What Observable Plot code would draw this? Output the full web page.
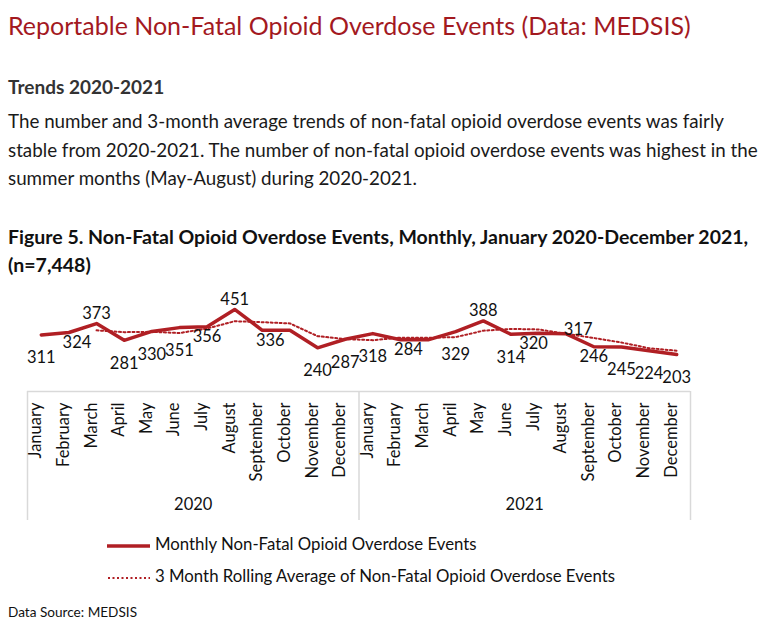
<!DOCTYPE html>
<html>
<head>
<meta charset="utf-8">
<script src="https://cdn.jsdelivr.net/npm/d3@7"></script>
<script src="https://cdn.jsdelivr.net/npm/@observablehq/plot@0.6"></script>
<style>
  html, body { margin: 0; padding: 0; background: #fff; }
  #page { position: relative; width: 768px; height: 637px; overflow: hidden; font-family: Lato, "Open Sans", sans-serif; color: #1a1a1a; }
  .t { position: absolute; left: 8px; white-space: nowrap; line-height: 1; }
  #title { top: 13px; font-size: 25px; color: #a3191f; }
  #trends { top: 77px; font-size: 19px; font-weight: bold; color: #333; }
  .para { font-size: 18.8px; color: #1a1a1a; }
  #p1 { top: 112px; } #p2 { top: 141px; } #p3 { top: 169px; }
  .fig { font-size: 19.5px; font-weight: bold; color: #111; }
  #f1 { top: 227px; } #f2 { top: 255px; }
  #chart { position: absolute; left: 0; top: 280px; }
  .leg { position: absolute; left: 107px; font-size: 16.8px; line-height: 1; white-space: nowrap; font-family: Lato, sans-serif; color: #111; }
  .leg svg { vertical-align: middle; margin-right: 4px; }
  #leg1 { top: 536px; } #leg2 { top: 568px; }
  #source { top: 606px; font-size: 13.6px; color: #111; }
</style>
</head>
<body>
<div id="page">
  <div class="t" id="title">Reportable Non-Fatal Opioid Overdose Events (Data: MEDSIS)</div>
  <div class="t" id="trends">Trends 2020-2021</div>
  <div class="t para" id="p1">The number and 3-month average trends of non-fatal opioid overdose events was fairly</div>
  <div class="t para" id="p2">stable from 2020-2021. The number of non-fatal opioid overdose events was highest in the</div>
  <div class="t para" id="p3">summer months (May-August) during 2020-2021.</div>
  <div class="t fig" id="f1">Figure 5. Non-Fatal Opioid Overdose Events, Monthly, January 2020-December 2021,</div>
  <div class="t fig" id="f2">(n=7,448)</div>
  <div id="chart"></div>
  <div class="leg" id="leg1"><svg width="44" height="8"><line x1="0" x2="43" y1="4" y2="4" stroke="#b01f24" stroke-width="3.5"/></svg>Monthly Non-Fatal Opioid Overdose Events</div>
  <div class="leg" id="leg2"><svg width="44" height="8"><line x1="1" x2="43" y1="4" y2="4" stroke="#b01f24" stroke-width="2" stroke-dasharray="2,2.5"/></svg>3 Month Rolling Average of Non-Fatal Opioid Overdose Events</div>
  <div class="t" id="source">Data Source: MEDSIS</div>
</div>
<script>
const years = ["2020", "2021"];
const monthNames = ["January","February","March","April","May","June","July","August","September","October","November","December"];
const monthly2020 = [311, 324, 373, 281, 330, 351, 356, 451, 336, 336, 240, 287];
const monthly2021 = [318, 284, 284, 329, 388, 314, 320, 317, 246, 245, 224, 203];
const rolling2020 = [null, null, 336, 326, 328, 321, 346, 386, 381, 374, 304, 288];
const rolling2021 = [282, 296, 295, 299, 334, 344, 341, 317, 294, 269, 238, 224];
const labelPlace2020 = ["below","nearR","above","below","below","below","near","above","nearR","none","below","below"];
const labelPlace2021 = ["below","nearR","none","below","above","below","nearL","aboveR","near","below","below","below"];

const red = "#b01f24";
const monthlyByYear = [monthly2020, monthly2021];
const rollingByYear = [rolling2020, rolling2021];
const placeByYear = [labelPlace2020, labelPlace2021];

const rows = [];
years.forEach((yr, k) => {
  monthNames.forEach((m, j) => {
    rows.push({i: k * 12 + j, year: yr, month: m, monthly: monthlyByYear[k][j], rolling: rollingByYear[k][j], place: placeByYear[k][j]});
  });
});
const groupBounds = years.map((_, k) => k * 12 - 0.5).concat([years.length * 12 - 0.5]);
const yearCenters = years.map((yr, k) => ({year: yr, c: k * 12 + 5.5}));

const offsets = {
  below: {dx: 0, dy: 23},
  near: {dx: 0, dy: 10},
  nearR: {dx: 8, dy: 10},
  nearL: {dx: -5, dy: 10},
  above: {dx: 0, dy: -10},
  aboveR: {dx: 12, dy: -4}
};

const font = "Lato, 'Open Sans', sans-serif";
const labelMarks = Object.entries(offsets).map(([key, o]) =>
  Plot.text(rows.filter(d => d.place === key), {x: "i", y: "monthly", text: d => String(d.monthly), dx: o.dx, dy: o.dy, fontSize: 16.5, fill: "#111"})
);

const chart = Plot.plot({
  width: 768,
  height: 250,
  marginTop: 20,
  marginBottom: 139,
  marginLeft: 27,
  marginRight: 78,
  x: {domain: [-0.5, 23.5], axis: null},
  y: {domain: [0, 500], axis: null},
  style: {fontFamily: font, fontSize: "16px", color: "#111", background: "transparent", overflow: "visible"},
  marks: [
    Plot.ruleY([0], {stroke: "#d9d9d9", strokeWidth: 1.5}),
    Plot.ruleX(groupBounds, {x: d => d, y1: 0, y2: 0, insetBottom: -129, stroke: "#d9d9d9", strokeWidth: 1.5}),
    Plot.line(rows, {x: "i", y: "rolling", stroke: red, strokeWidth: 2, strokeDasharray: "2,2.5"}),
    Plot.line(rows, {x: "i", y: "monthly", stroke: red, strokeWidth: 3.5}),
    ...labelMarks,
    Plot.text(rows, {x: "i", text: "month", frameAnchor: "bottom", rotate: -90, textAnchor: "end", dy: 11, fontSize: 16.5, fill: "#111"}),
    Plot.text(yearCenters, {x: "c", text: "year", frameAnchor: "bottom", dy: 118, fontSize: 16.5, fill: "#111"})
  ]
});
document.getElementById("chart").appendChild(chart);
</script>
</body>
</html>
